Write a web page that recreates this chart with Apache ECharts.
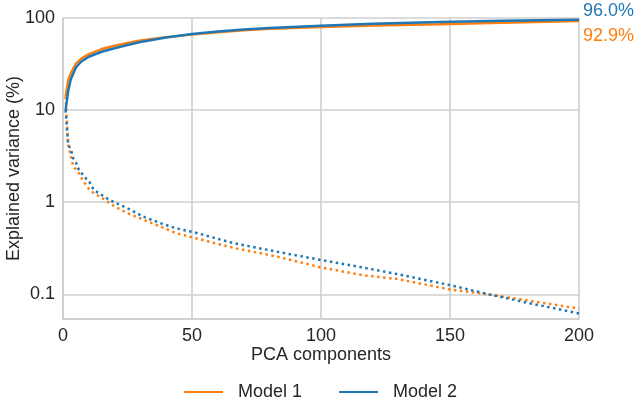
<!DOCTYPE html>
<html>
<head>
<meta charset="utf-8">
<script src="https://cdn.jsdelivr.net/npm/echarts@6/dist/echarts.min.js"></script>
<style>
html,body{margin:0;padding:0;background:#fff;}
#chart{width:640px;height:398px;}
</style>
</head>
<body>
<div id="chart"></div>
<script>
// Cumulative explained variance (%), by number of PCA components
const cumX      = [1, 2, 3, 5, 7, 10, 15, 20, 25, 30, 40, 50, 60, 70, 80, 100, 120, 146, 170, 200];
const cumModel1 = [14, 21, 25, 32, 36, 40.5, 46, 50, 53.5, 57, 62, 66, 70, 73.5, 76.5, 80, 83, 85.5, 89, 92.9];
const cumModel2 = [10, 16, 21.5, 29, 33.5, 38, 43, 47, 51, 55, 61.5, 67, 71.5, 75, 78, 82.5, 86.5, 90.4, 93.3, 96.0];

// Individual explained variance (%) per component
const indX1     = [1, 2, 3, 4, 6, 8, 10, 12, 15, 20, 25, 31, 38, 44, 51, 66, 83, 100, 116, 130, 150, 165, 181, 200];
const indModel1 = [14, 4.2, 3.2, 2.45, 2.1, 1.67, 1.4, 1.25, 1.12, 0.9, 0.76, 0.65, 0.54, 0.46, 0.41, 0.32, 0.257, 0.196, 0.162, 0.146, 0.113, 0.1, 0.085, 0.07];
const indX2     = [1, 2, 3, 4, 5, 6, 7, 9, 10, 12, 14, 18, 25, 31, 38, 44, 51, 66, 83, 100, 116, 130, 150, 165, 181, 200];
const indModel2 = [10, 4.2, 3.8, 3.0, 2.7, 2.3, 2.1, 1.8, 1.7, 1.35, 1.25, 1.06, 0.86, 0.70, 0.59, 0.52, 0.47, 0.36, 0.29, 0.236, 0.196, 0.165, 0.126, 0.1, 0.08, 0.062];

const seriesNames = ['Model 1', 'Model 2'];
const xTicks = [0, 50, 100, 150, 200];

const ORANGE = '#ff7f0e';
const BLUE = '#1f77b4';
const TXT = '#262626';
const GRID = '#cfcfcf';
const FONT = 'Liberation Sans, Arial, sans-serif';
const FS = 18;
const LEGEND_ICON = 'path://M0,0H39V2H0Z';

const zip = (xs, ys) => xs.map((x, i) => [x, ys[i]]);

const chart = echarts.init(document.getElementById('chart'), null, {renderer: 'canvas'});
chart.setOption({
  animation: false,
  backgroundColor: '#fff',
  textStyle: {fontFamily: FONT},
  grid: {left: 63, right: 61, top: 18, bottom: 79, containLabel: false, outerBoundsMode: 'none'},
  legend: {
    data: [
      {name: seriesNames[0], icon: LEGEND_ICON, itemStyle: {color: ORANGE}, textStyle: {color: TXT}},
      {name: seriesNames[1], icon: LEGEND_ICON, itemStyle: {color: BLUE}, textStyle: {color: TXT}}
    ],
    top: 378,
    left: 179,
    itemWidth: 39,
    itemHeight: 2,
    itemGap: 37,
    textStyle: {fontSize: FS, color: TXT, fontFamily: FONT, padding: [6, 0, 0, 10]}
  },
  xAxis: {
    type: 'value',
    min: xTicks[0],
    max: xTicks[xTicks.length - 1],
    interval: 50,
    name: 'PCA components',
    nameLocation: 'middle',
    nameGap: 27,
    nameMoveOverlap: false,
    nameTextStyle: {fontSize: FS, color: TXT, fontFamily: FONT},
    axisLine: {show: true, lineStyle: {color: GRID, width: 1.6}},
    axisTick: {show: false},
    axisLabel: {fontSize: FS, color: TXT, margin: 8, fontFamily: FONT},
    splitLine: {show: true, lineStyle: {color: GRID, width: 1.6}}
  },
  yAxis: {
    type: 'log',
    logBase: 10,
    min: 0.054,
    max: 100,
    name: 'Explained variance (%)',
    nameLocation: 'middle',
    nameRotate: 90,
    nameGap: 40,
    nameMoveOverlap: false,
    nameTextStyle: {fontSize: FS, color: TXT, fontFamily: FONT},
    axisLine: {show: true, lineStyle: {color: GRID, width: 1.6}},
    axisTick: {show: false},
    axisLabel: {fontSize: FS, color: TXT, margin: 8, fontFamily: FONT, showMinLabel: false,
      formatter: v => { const r = Math.round(v * 1000) / 1000; return String(r); }},
    splitLine: {show: true, lineStyle: {color: GRID, width: 1.6}}
  },
  series: [
    {
      name: seriesNames[0], type: 'line', symbol: 'none', z: 3,
      data: zip(cumX, cumModel1),
      lineStyle: {color: ORANGE, width: 2.5},
      itemStyle: {color: ORANGE},
      endLabel: {show: true, color: ORANGE, fontSize: FS, fontFamily: FONT, distance: 4, offset: [0, 15],
        formatter: p => p.value[1].toFixed(1) + '%'}
    },
    {
      name: seriesNames[1], type: 'line', symbol: 'none', z: 4,
      data: zip(cumX, cumModel2),
      lineStyle: {color: BLUE, width: 2.5},
      itemStyle: {color: BLUE},
      endLabel: {show: true, color: BLUE, fontSize: FS, fontFamily: FONT, distance: 4, offset: [0, -9],
        formatter: p => p.value[1].toFixed(1) + '%'}
    },
    {
      name: seriesNames[0], type: 'line', symbol: 'none', z: 3,
      data: zip(indX1, indModel1),
      lineStyle: {color: ORANGE, width: 2.5, type: [2.5, 3.5]},
      itemStyle: {color: ORANGE}
    },
    {
      name: seriesNames[1], type: 'line', symbol: 'none', z: 4,
      data: zip(indX2, indModel2),
      lineStyle: {color: BLUE, width: 2.5, type: [2.5, 3.5]},
      itemStyle: {color: BLUE}
    }
  ]
});
</script>
</body>
</html>
